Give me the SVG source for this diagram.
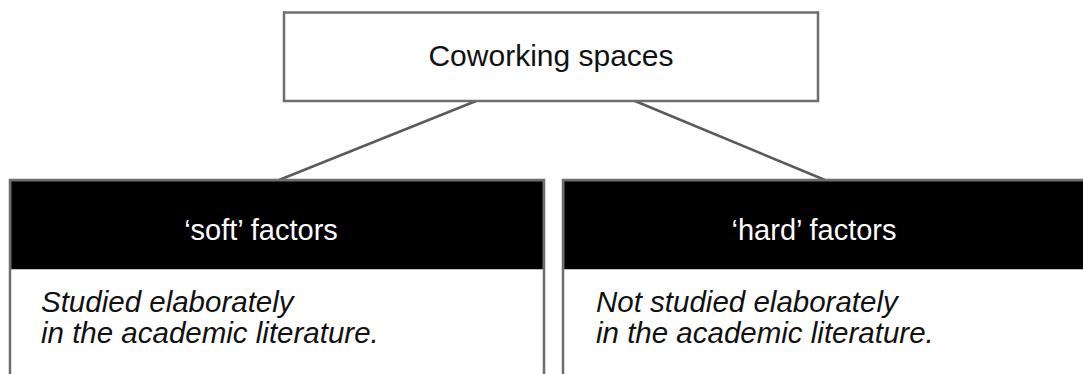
<svg xmlns="http://www.w3.org/2000/svg" width="1083" height="374" viewBox="0 0 1083 374">
  <style>
    .frame { fill: #ffffff; stroke: #6e6e6e; stroke-width: 2.5; }
    .head { fill: #000000; }
    .link { stroke: #5a5a5a; stroke-width: 2.5; fill: none; }
    .title { font-family: "Liberation Sans", Arial, sans-serif; font-size: 30px; fill: #111111; text-anchor: middle; }
    .headtext { font-family: "Liberation Sans", Arial, sans-serif; font-size: 29px; fill: #ffffff; text-anchor: middle; }
    .body { font-family: "Liberation Sans", Arial, sans-serif; font-size: 29.5px; font-style: italic; fill: #111111; }
  </style>
  <rect width="1083" height="374" fill="#ffffff"/>

  <g id="connectors">
    <line class="link" x1="476" y1="101" x2="279" y2="180"/>
    <line class="link" x1="635" y1="101" x2="825" y2="180"/>
  </g>

  <g id="coworking-spaces">
    <rect class="frame" x="284" y="12.5" width="534" height="88.5"/>
    <text class="title" x="551" y="66">Coworking spaces</text>
  </g>

  <g id="soft-factors">
    <rect class="frame" x="10" y="180" width="534" height="210"/>
    <rect class="head" x="11.25" y="181.25" width="531.5" height="88"/>
    <text class="headtext" x="261" y="240">‘soft’ factors</text>
    <text class="body" x="41" y="312">Studied elaborately</text>
    <text class="body" x="41" y="343">in the academic literature.</text>
  </g>

  <g id="hard-factors">
    <rect class="frame" x="563" y="180" width="534" height="210"/>
    <rect class="head" x="564.25" y="181.25" width="531.5" height="88"/>
    <text class="headtext" x="814" y="240">‘hard’ factors</text>
    <text class="body" x="596" y="312">Not studied elaborately</text>
    <text class="body" x="596" y="343">in the academic literature.</text>
  </g>
</svg>
